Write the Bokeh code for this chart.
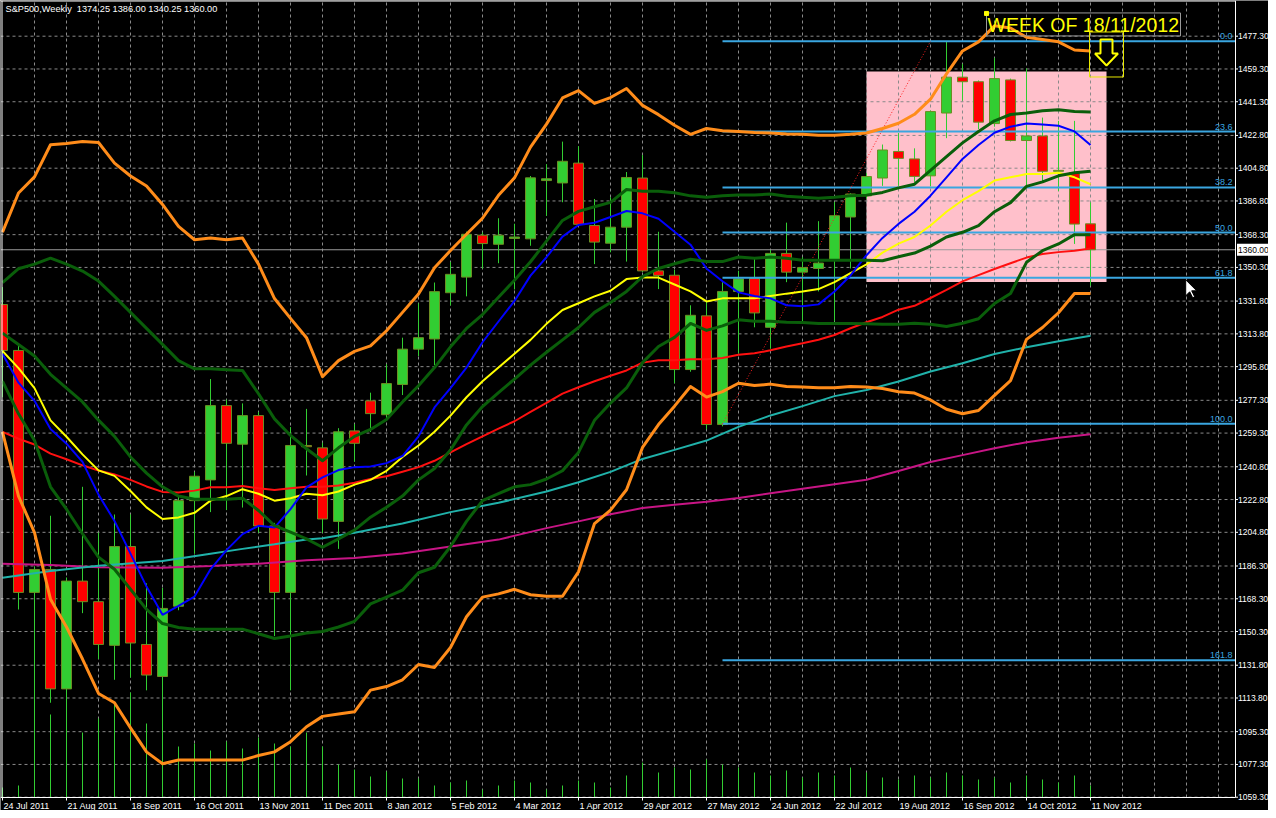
from bokeh.plotting import figure
from bokeh.models import Range1d
from bokeh.core.properties import value
from bokeh.embed import file_html
from bokeh.resources import INLINE

# ---------------- data (weekly bars, index 0 = week of 24 Jul 2011) ----------------
opens = [1329.9, 1304.7, 1171.8, 1184.4, 1118.8, 1178.0, 1166.7, 1142.7, 1197.0, 1143.2,
         1125.6, 1164.2, 1222.2, 1233.6, 1274.4, 1253.2, 1268.9, 1208.3, 1171.8, 1252.5,
         1251.2, 1210.8, 1260.5, 1277.0, 1269.4, 1286.0, 1305.4, 1311.0, 1336.4, 1345.0,
         1368.0, 1363.0, 1366.2, 1366.0, 1398.0, 1396.7, 1407.6, 1373.3, 1363.6, 1372.4,
         1399.4, 1348.4, 1346.0, 1294.2, 1323.7, 1264.0, 1337.1, 1344.2, 1317.4, 1358.0,
         1347.7, 1349.7, 1354.3, 1378.0, 1389.6, 1399.4, 1414.0, 1409.9, 1400.6, 1435.1,
         1454.8, 1452.3, 1429.3, 1453.3, 1420.0, 1422.5, 1403.1, 1402.3, 1374.25]
highs = [1339.5, 1307.5, 1186.0, 1213.9, 1180.0, 1229.8, 1204.6, 1214.6, 1214.6, 1176.8,
         1174.3, 1225.0, 1238.0, 1289.0, 1277.7, 1275.6, 1270.9, 1210.0, 1262.6, 1272.6,
         1254.0, 1262.0, 1264.3, 1281.5, 1297.1, 1311.7, 1330.6, 1342.0, 1353.3, 1370.0,
         1369.5, 1377.3, 1374.3, 1400.5, 1407.0, 1419.4, 1416.9, 1387.9, 1388.8, 1402.7,
         1412.0, 1369.9, 1349.0, 1329.5, 1331.6, 1342.2, 1348.5, 1356.0, 1359.8, 1374.9,
         1356.0, 1375.7, 1386.3, 1391.0, 1402.0, 1417.8, 1424.1, 1415.7, 1436.5, 1474.2,
         1462.1, 1453.0, 1465.4, 1454.0, 1459.6, 1432.6, 1430.8, 1430.8, 1386.0]
lows = [1279.0, 1162.4, 1110.0, 1111.2, 1112.0, 1160.4, 1135.2, 1123.8, 1125.0, 1118.0,
        1078.0, 1162.0, 1193.0, 1215.9, 1217.0, 1218.4, 1204.5, 1147.8, 1118.0, 1236.0,
        1204.5, 1195.7, 1243.6, 1260.0, 1267.6, 1280.2, 1301.6, 1296.6, 1329.4, 1334.4,
        1349.6, 1352.6, 1338.2, 1362.2, 1378.6, 1386.1, 1373.0, 1352.1, 1358.6, 1353.5,
        1347.7, 1338.4, 1286.7, 1293.0, 1261.5, 1263.0, 1303.1, 1317.4, 1305.6, 1342.2,
        1320.2, 1337.1, 1320.7, 1349.7, 1388.0, 1395.1, 1395.1, 1397.3, 1394.8, 1421.3,
        1441.9, 1426.3, 1427.6, 1419.5, 1394.8, 1397.3, 1392.2, 1363.2, 1340.25]
closes = [1304.7, 1171.8, 1184.4, 1118.8, 1178.0, 1166.7, 1143.2, 1197.0, 1144.0, 1126.4,
          1163.0, 1222.2, 1235.6, 1274.4, 1253.7, 1268.9, 1208.3, 1171.8, 1252.5, 1251.8,
          1212.1, 1260.0, 1253.7, 1270.0, 1286.5, 1305.4, 1311.7, 1337.0, 1346.5, 1368.5,
          1363.4, 1368.0, 1367.0, 1399.5, 1399.0, 1408.6, 1374.0, 1364.2, 1372.4, 1399.7,
          1348.4, 1345.9, 1294.2, 1324.0, 1264.0, 1337.1, 1344.0, 1325.3, 1358.0, 1347.7,
          1350.2, 1352.7, 1378.7, 1390.6, 1400.2, 1414.8, 1410.2, 1400.3, 1435.9, 1454.8,
          1452.3, 1430.1, 1454.0, 1420.0, 1422.5, 1403.1, 1403.6, 1374.1, 1360.0]
volume = [10, 12, 110, 83, 100, 65, 79, 93, 105, 74, 110, 51, 54, 47, 56, 49, 60, 54, 51, 65,
          51, 33, 28, 21, 26, 19, 19, 12, 15, 17, 8, 12, 17, 15, 8, 12, 17, 15, 10, 22,
          35, 25, 30, 28, 38, 33, 30, 25, 22, 27, 20, 25, 22, 30, 25, 20, 18, 22, 20, 25,
          22, 18, 20, 15, 22, 18, 15, 22, 12]

bb_upper = [1369.7, 1391.2, 1400.0, 1417.7, 1418.4, 1419.4, 1418.9, 1407.6, 1400.5, 1395.0,
            1384.9, 1372.8, 1365.5, 1366.5, 1365.5, 1366.5, 1352.1, 1333.2, 1322.3, 1311.7,
            1290.3, 1299.1, 1304.2, 1307.2, 1315.5, 1325.6, 1335.7, 1350.1, 1359.6, 1368.5,
            1377.3, 1389.9, 1399.5, 1416.4, 1429.0, 1443.4, 1447.4, 1440.4, 1443.6, 1448.6,
            1439.3, 1434.2, 1428.4, 1423.4, 1426.6, 1425.4, 1424.9, 1424.4, 1424.1, 1423.6,
            1423.4, 1422.9, 1422.9, 1423.4, 1424.1, 1426.6, 1429.5, 1434.4, 1442.7, 1456.6,
            1469.2, 1474.2, 1483.0, 1481.8, 1476.7, 1475.5, 1474.2, 1469.7, 1469.2]
bb_lower = [1260.0, 1224.7, 1204.6, 1168.0, 1152.8, 1135.2, 1116.3, 1111.2, 1097.4, 1084.2,
            1077.7, 1079.7, 1079.7, 1079.7, 1079.7, 1079.7, 1082.2, 1084.2, 1089.8, 1098.0,
            1103.7, 1105.0, 1106.2, 1118.1, 1120.1, 1123.8, 1132.2, 1130.6, 1141.5, 1158.4,
            1169.2, 1171.0, 1173.5, 1170.5, 1169.7, 1169.7, 1183.1, 1209.6, 1217.0, 1228.2,
            1251.4, 1264.0, 1274.1, 1284.9, 1279.1, 1282.1, 1286.7, 1285.4, 1286.2, 1284.9,
            1284.6, 1284.2, 1284.2, 1284.9, 1284.6, 1283.8, 1282.0, 1281.3, 1277.5, 1272.4,
            1269.9, 1271.7, 1280.0, 1288.1, 1310.8, 1317.3, 1325.4, 1336.0, 1336.0]
env_upper = [1342.0, 1349.6, 1352.1, 1355.4, 1352.1, 1348.3, 1342.8, 1334.4, 1325.6, 1316.8,
             1308.0, 1299.1, 1294.6, 1294.6, 1294.1, 1293.7, 1280.9, 1267.1, 1258.0, 1250.7,
             1244.1, 1251.2, 1257.5, 1261.3, 1266.8, 1276.4, 1285.3, 1295.3, 1306.7, 1316.8,
             1324.4, 1333.9, 1343.3, 1353.4, 1364.7, 1376.1, 1381.1, 1383.6, 1386.0, 1393.1,
             1392.1, 1392.1, 1391.3, 1389.6, 1388.8, 1389.6, 1390.1, 1390.1, 1390.6, 1389.4,
             1388.8, 1388.3, 1388.8, 1389.6, 1390.0, 1391.5, 1394.0, 1396.0, 1403.6, 1411.2,
             1418.7, 1425.0, 1430.8, 1434.3, 1435.1, 1436.4, 1436.9, 1435.9, 1435.6]
env_mid = [1314.2, 1308.0, 1301.6, 1291.6, 1284.0, 1276.4, 1266.4, 1257.5, 1246.2, 1237.3,
           1229.8, 1224.7, 1223.0, 1223.0, 1223.0, 1223.5, 1216.8, 1208.5, 1204.9, 1201.2,
           1196.6, 1201.2, 1206.0, 1213.1, 1218.6, 1224.7, 1233.6, 1239.9, 1250.0, 1263.8,
           1273.9, 1281.5, 1289.0, 1296.6, 1303.7, 1310.5, 1317.3, 1325.6, 1331.0, 1337.1,
           1345.2, 1349.7, 1352.3, 1354.8, 1353.5, 1353.5, 1356.0, 1355.3, 1356.0, 1355.3,
           1354.3, 1354.3, 1354.3, 1354.3, 1354.3, 1354.0, 1356.2, 1358.2, 1362.0, 1367.0,
           1369.6, 1373.3, 1380.9, 1385.9, 1394.8, 1397.3, 1400.6, 1402.3, 1403.1]
env_lower = [1287.8, 1269.9, 1255.2, 1229.8, 1217.5, 1204.0, 1191.2, 1184.5, 1173.5, 1162.5,
             1154.7, 1152.5, 1151.6, 1151.6, 1151.6, 1151.6, 1149.1, 1146.5, 1147.8, 1149.5,
             1150.3, 1152.8, 1155.9, 1165.5, 1169.2, 1173.0, 1182.6, 1185.6, 1197.0, 1210.8,
             1222.2, 1226.0, 1229.8, 1231.0, 1234.1, 1238.6, 1248.7, 1266.3, 1275.8, 1284.1,
             1298.0, 1306.9, 1311.9, 1319.5, 1315.7, 1318.2, 1321.5, 1320.7, 1320.7, 1320.2,
             1320.0, 1319.5, 1319.5, 1319.5, 1319.3, 1319.1, 1319.1, 1319.6, 1319.1, 1317.8,
             1319.6, 1322.1, 1330.5, 1336.0, 1353.1, 1359.5, 1363.2, 1368.3, 1368.3]
ma_blue = [1302.9, 1287.0, 1277.0, 1261.5, 1253.5, 1243.5, 1225.5, 1211.0, 1193.1, 1175.0,
           1159.5, 1164.4, 1169.5, 1184.5, 1195.0, 1203.8, 1208.4, 1207.4, 1217.5, 1229.5,
           1235.0, 1239.0, 1240.6, 1241.0, 1242.8, 1246.7, 1257.5, 1273.4, 1284.0, 1295.3,
           1309.2, 1320.6, 1331.9, 1345.8, 1355.9, 1367.2, 1373.6, 1374.8, 1378.0, 1381.3,
           1380.0, 1377.0, 1369.9, 1362.8, 1349.7, 1342.7, 1336.6, 1334.6, 1333.3, 1329.5,
           1329.0, 1330.0, 1337.1, 1345.9, 1357.0, 1366.5, 1374.2, 1380.9, 1389.7, 1399.8,
           1409.9, 1417.5, 1424.3, 1427.6, 1429.3, 1428.8, 1428.1, 1425.0, 1417.5]
ma_yellow = [1304.4, 1295.0, 1284.0, 1266.3, 1257.3, 1247.6, 1238.8, 1235.8, 1227.5, 1218.5,
             1212.1, 1213.0, 1215.5, 1222.2, 1224.7, 1228.5, 1226.0, 1222.2, 1223.5, 1226.0,
             1225.2, 1227.2, 1231.0, 1233.6, 1238.6, 1246.2, 1252.5, 1260.0, 1268.9, 1279.0,
             1287.8, 1295.3, 1302.9, 1310.5, 1319.3, 1326.9, 1330.6, 1334.4, 1337.5, 1343.9,
             1344.7, 1344.7, 1340.9, 1337.1, 1331.6, 1333.3, 1333.3, 1333.3, 1334.6, 1335.9,
             1337.1, 1338.4, 1342.2, 1347.2, 1352.0, 1358.4, 1363.4, 1367.0, 1373.3, 1380.9,
             1387.2, 1392.2, 1398.0, 1399.8, 1401.6, 1401.6, 1402.3, 1399.8, 1396.0]
ma_red = [1260.0, 1256.2, 1253.0, 1248.0, 1244.9, 1241.6, 1238.7, 1236.6, 1233.6, 1230.0,
          1227.0, 1226.7, 1227.7, 1229.5, 1229.5, 1230.3, 1229.0, 1228.0, 1229.0, 1229.8,
          1229.8, 1230.5, 1232.0, 1234.1, 1235.6, 1238.1, 1240.6, 1244.1, 1248.7, 1253.2,
          1257.5, 1261.8, 1265.8, 1270.9, 1275.9, 1281.0, 1284.5, 1287.8, 1290.8, 1293.7,
          1298.0, 1299.3, 1299.3, 1299.8, 1299.8, 1300.5, 1302.3, 1303.1, 1304.8, 1306.9,
          1308.6, 1310.6, 1313.2, 1316.9, 1320.2, 1323.1, 1327.1, 1329.2, 1333.5, 1338.0,
          1342.6, 1346.1, 1349.4, 1352.6, 1355.7, 1357.7, 1358.7, 1359.5, 1360.7]
cyan_bars = [0, 3, 6, 10, 13, 15, 17, 19, 20, 22, 25, 28, 31, 34, 36, 38, 40, 42, 44, 46,
             48, 50, 52, 54, 56, 58, 60, 62, 64, 66, 68]
ma_cyan = [1179.8, 1183.6, 1186.4, 1189.0, 1193.0, 1195.7, 1198.2, 1200.8, 1201.5, 1204.6,
           1209.6, 1215.9, 1221.0, 1227.2, 1232.3, 1238.0, 1245.1, 1250.1, 1255.2, 1262.7,
           1269.0, 1274.1, 1279.6, 1283.0, 1287.6, 1293.1, 1297.7, 1302.7, 1306.5, 1309.8, 1312.8]
mag_bars = [0, 3, 6, 10, 13, 16, 19, 22, 25, 28, 31, 34, 36, 38, 40, 42, 44, 46, 48, 50,
            52, 54, 56, 58, 60, 62, 64, 66, 68]
ma_magenta = [1187.6, 1186.9, 1185.6, 1185.3, 1186.3, 1187.6, 1189.4, 1190.7, 1193.2, 1197.0,
              1200.8, 1207.1, 1210.8, 1214.7, 1218.1, 1219.9, 1221.6, 1223.6, 1226.2, 1228.7,
              1231.2, 1233.7, 1238.5, 1243.4, 1247.2, 1251.0, 1254.3, 1256.8, 1258.6]

date_labels = ["24 Jul 2011", "21 Aug 2011", "18 Sep 2011", "16 Oct 2011", "13 Nov 2011",
               "11 Dec 2011", "8 Jan 2012", "5 Feb 2012", "4 Mar 2012", "1 Apr 2012",
               "29 Apr 2012", "27 May 2012", "24 Jun 2012", "22 Jul 2012", "19 Aug 2012",
               "16 Sep 2012", "14 Oct 2012", "11 Nov 2012"]
date_label_bars = list(range(0, 69, 4))
price_ticks = [1477.30, 1459.30, 1441.30, 1422.80, 1404.80, 1386.80, 1368.30, 1350.30,
               1331.80, 1313.80, 1295.80, 1277.30, 1259.30, 1240.80, 1222.80, 1204.80,
               1186.30, 1168.30, 1150.30, 1131.80, 1113.80, 1095.30, 1077.30, 1059.30]

fib_levels = [0.0, 23.6, 38.2, 50.0, 61.8, 100.0, 161.8]
fib_high, fib_low = 1474.5, 1264.4
fib_start_bar, fib_end_bar = 45, 58
box_bars = (54, 69)
box_prices = (1342.3, 1457.9)
last_price = 1360.00
header = "S&P500,Weekly\u00a0 1374.25 1386.00 1340.25 1360.00"
note_text = "WEEK OF 18/11/2012"
note_bar, note_price = 61.5, 1489.8
arrow_bar, arrow_price = 69, 1468.35
cursor_bar, cursor_price = 73.95, 1343.5

# ---------------- scale (MT4 window: 16 px per bar, 1.8206 px per point) ----------------
W, H = 1268, 810
PX_BAR = 16.0
PX_PT = 1.8206
X0 = -0.125                     # left edge of the window
Y1 = 1496.91                    # top edge of the window
XR = X0 + 1235 / PX_BAR         # right edge of the price area (price scale starts here)
YB = 1059.14                    # bottom of the price area (date scale below)
bars = list(range(len(closes)))
FONT = "Liberation Sans"


def px(n):          # n pixels as bars
    return n / PX_BAR


def pt(n):          # n pixels as price points
    return n / PX_PT


p = figure(width=W, height=H, output_backend="svg", toolbar_location=None,
           x_range=Range1d(X0, X0 + W / PX_BAR), y_range=Range1d(Y1 - H / PX_PT, Y1),
           background_fill_color="black", border_fill_color="black",
           min_border=0, x_axis_location=None, y_axis_location=None, outline_line_color=None)
p.xgrid.visible = False
p.ygrid.visible = False

# pink rectangle behind everything
p.quad(left=[box_bars[0]], right=[box_bars[1]], bottom=[box_prices[0]], top=[box_prices[1]],
       fill_color="#FFC0CB", line_color=None)

# dashed grid
grid_x = list(range(2, 77, 2))
p.segment(x0=grid_x, x1=grid_x, y0=[YB] * len(grid_x), y1=[Y1] * len(grid_x),
          line_color="#8a8a8a", line_dash="3 3", line_width=1)
p.segment(x0=[X0] * len(price_ticks), x1=[XR] * len(price_ticks), y0=price_ticks, y1=price_ticks,
          line_color="#8a8a8a", line_dash="3 3", line_width=1)

# current price line
p.segment(x0=[X0], x1=[XR], y0=[last_price], y1=[last_price], line_color="#9a9a9a", line_width=1)

# volume
p.segment(x0=bars, x1=bars, y0=[YB] * len(bars), y1=[YB + pt(v) for v in volume],
          line_color="#32CD32", line_width=1)

# candles
p.segment(x0=bars, x1=bars, y0=lows, y1=highs, line_color="#32CD32", line_width=1)
up = [i for i in bars if closes[i] >= opens[i]]
dn = [i for i in bars if closes[i] < opens[i]]
p.vbar(x=up, width=0.625, bottom=[opens[i] for i in up], top=[closes[i] for i in up],
       fill_color="#32CD32", line_color="#6B8E23", line_width=1)
p.vbar(x=dn, width=0.625, bottom=[closes[i] for i in dn], top=[opens[i] for i in dn],
       fill_color="#FF0000", line_color="#6B8E23", line_width=1)

# fibonacci retracement
fib_col = "#3AA6E0"
fib_prices = [fib_high - (fib_high - fib_low) * l / 100.0 for l in fib_levels]
p.segment(x0=[fib_start_bar] * len(fib_prices), x1=[XR] * len(fib_prices),
          y0=fib_prices, y1=fib_prices, line_color=fib_col, line_width=2)
p.text(x=[XR - px(3)] * len(fib_prices), y=[f + pt(2) for f in fib_prices],
       text=["%.1f" % l for l in fib_levels], text_align="right", text_baseline="bottom",
       text_color=fib_col, text_font=value(FONT), text_font_size="9px")
p.line([fib_start_bar, fib_end_bar], [fib_low, fib_high], line_color="#FF2020",
       line_dash="1 2", line_width=1)

# indicators
p.line(mag_bars, ma_magenta, line_color="#C71585", line_width=2)
p.line(cyan_bars, ma_cyan, line_color="#20B2AA", line_width=2)
p.line(bars, ma_red, line_color="#FF1010", line_width=2)
p.line(bars, ma_yellow, line_color="#FFFF00", line_width=2)
p.line(bars, ma_blue, line_color="#0000FF", line_width=2)
for arr in (env_upper, env_mid, env_lower):
    p.line(bars, arr, line_color="#0A5E0A", line_width=3, line_join="round")
for arr in (bb_upper, bb_lower):
    p.line(bars, arr, line_color="#FF8C1A", line_width=3, line_join="round")

# note text with its frame
p.quad(left=[note_bar], right=[note_bar + px(194)], top=[note_price + pt(0.5)],
       bottom=[note_price - pt(22.5)], fill_color=None, line_color="#9a9a9a", line_width=1)
p.text(x=[note_bar + px(1)], y=[note_price - pt(0.5)], text=[note_text],
       text_baseline="top", text_align="left", text_color="#FFFF00",
       text_font=value(FONT), text_font_size="19.5px")
p.scatter(x=[note_bar], y=[note_price], marker="square", size=4, color="#FFFF00")

# arrow box and hollow down arrow
p.quad(left=[arrow_bar - px(17)], right=[arrow_bar + px(17)],
       top=[arrow_price + pt(20.5)], bottom=[arrow_price - pt(24.5)],
       fill_color=None, line_color="#E8E800", line_width=1)
shape = [(-6, -13), (6, -13), (6, 1), (11.5, 1), (0, 13), (-11.5, 1), (-6, 1)]
p.patch([arrow_bar + px(dx) for dx, dy in shape], [arrow_price - pt(dy) for dx, dy in shape],
        fill_color=None, line_color="#FFFF00", line_width=2)

# mouse pointer left on the chart
cur = [(0, 0), (0, 16), (4, 12), (7, 18), (9, 17), (6, 11), (11, 11)]
p.patch([cursor_bar + px(dx) for dx, dy in cur], [cursor_price - pt(dy) for dx, dy in cur],
        fill_color="white", line_color="black", line_width=1)

# window borders
p.segment(x0=[X0 + px(1.5), X0, XR, X0], x1=[X0 + px(1.5), XR, XR, XR],
          y0=[YB, Y1 - pt(0.5), YB, YB], y1=[Y1, Y1 - pt(0.5), Y1, YB],
          line_color="white", line_width=1)

# price scale
p.segment(x0=[XR] * len(price_ticks), x1=[XR + px(2.5)] * len(price_ticks),
          y0=price_ticks, y1=price_ticks, line_color="white", line_width=1)
p.text(x=[XR + px(2.5)] * len(price_ticks), y=price_ticks, text=["%.2f" % t for t in price_ticks],
       text_align="left", text_baseline="middle", text_color="white",
       text_font=value(FONT), text_font_size="8.5px")
p.quad(left=[XR + px(1.5)], right=[XR + px(40)], top=[last_price + pt(6)],
       bottom=[last_price - pt(6)], fill_color="white", line_color=None)
p.text(x=[XR + px(2.5)], y=[last_price], text=["%.2f" % last_price], text_align="left",
       text_baseline="middle", text_color="black", text_font=value(FONT), text_font_size="8.5px")

# date scale
p.segment(x0=date_label_bars, x1=date_label_bars, y0=[YB] * len(date_label_bars),
          y1=[YB - pt(3)] * len(date_label_bars), line_color="white", line_width=1)
p.text(x=[b + px(1) for b in date_label_bars], y=[YB - pt(3.5)] * len(date_label_bars),
       text=date_labels, text_align="left", text_baseline="top", text_color="white",
       text_font=value(FONT), text_font_size="9px")

# header
p.text(x=[X0 + px(5)], y=[Y1 - pt(3.5)], text=[header], text_align="left", text_baseline="top",
       text_color="white", text_font=value(FONT), text_font_size="9.2px")

open("out.html", "w").write(file_html(p, INLINE))
